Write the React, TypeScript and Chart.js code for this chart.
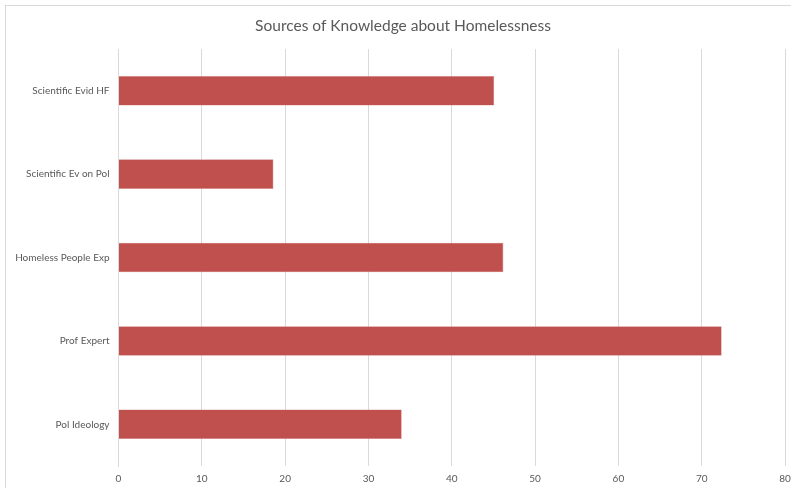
import React, { useEffect, useRef } from "react";
import { Chart, registerables } from "chart.js";

Chart.register(...registerables);

const categories = [
  "Scientific Evid HF",
  "Scientific Ev on Pol",
  "Homeless People Exp",
  "Prof Expert",
  "Pol Ideology",
];
const values = [45.1, 18.6, 46.2, 72.4, 34.0];
const xMin = 0;
const xMax = 80;
const xStep = 10;
const titleText = "Sources of Knowledge about Homelessness";

export default function App() {
  const ref = useRef<HTMLCanvasElement | null>(null);

  useEffect(() => {
    if (!ref.current) return;
    const chart = new Chart(ref.current, {
      type: "bar",
      data: {
        labels: categories,
        datasets: [
          {
            label: "Series",
            data: values,
            backgroundColor: "#c0504d",
            borderColor: "#d38a88",
            borderWidth: 0.6,
            categoryPercentage: 1,
            barPercentage: 0.355,
          },
        ],
      },
      options: {
        indexAxis: "y",
        animation: false,
        responsive: false,
        maintainAspectRatio: false,
        layout: { padding: { left: 15, right: 0, top: 0, bottom: 0 } },
        plugins: {
          legend: { display: false },
          tooltip: { enabled: false },
          title: {
            display: true,
            text: titleText,
            color: "#595959",
            font: { family: "Lato", size: 15.5, weight: "normal" },
            padding: { top: 17, bottom: 13.5 },
          },
        },
        scales: {
          x: {
            min: xMin,
            max: xMax,
            ticks: {
              stepSize: xStep,
              color: "#595959",
              font: { family: "Lato", size: 10 },
              padding: 7,
            },
            grid: { color: "#d9d9d9", drawTicks: false },
            border: { display: false },
            afterFit: (s: any) => {
              s.height = 22;
              s.paddingRight = 6;
              s.paddingLeft = 0;
            },
          },
          y: {
            ticks: {
              color: "#595959",
              font: { family: "Lato", size: 10 },
              padding: 9,
            },
            grid: { display: false, drawTicks: false },
            border: { display: true, color: "#d9d9d9" },
            afterFit: (s: any) => {
              s.width = 103.5;
            },
          },
        },
      },
    });
    return () => chart.destroy();
  }, []);

  return (
    <div
      style={{
        position: "fixed",
        left: 0,
        top: 0,
        width: 791,
        height: 488,
        background: "#fff",
      }}
    >
      <div
        style={{
          position: "absolute",
          left: 5,
          top: 5,
          width: 800,
          height: 500,
          border: "1px solid #d9d9d9",
        }}
      />
      <canvas
        ref={ref}
        width={791}
        height={488}
        style={{ position: "absolute", left: 0, top: 0 }}
      />
    </div>
  );
}
